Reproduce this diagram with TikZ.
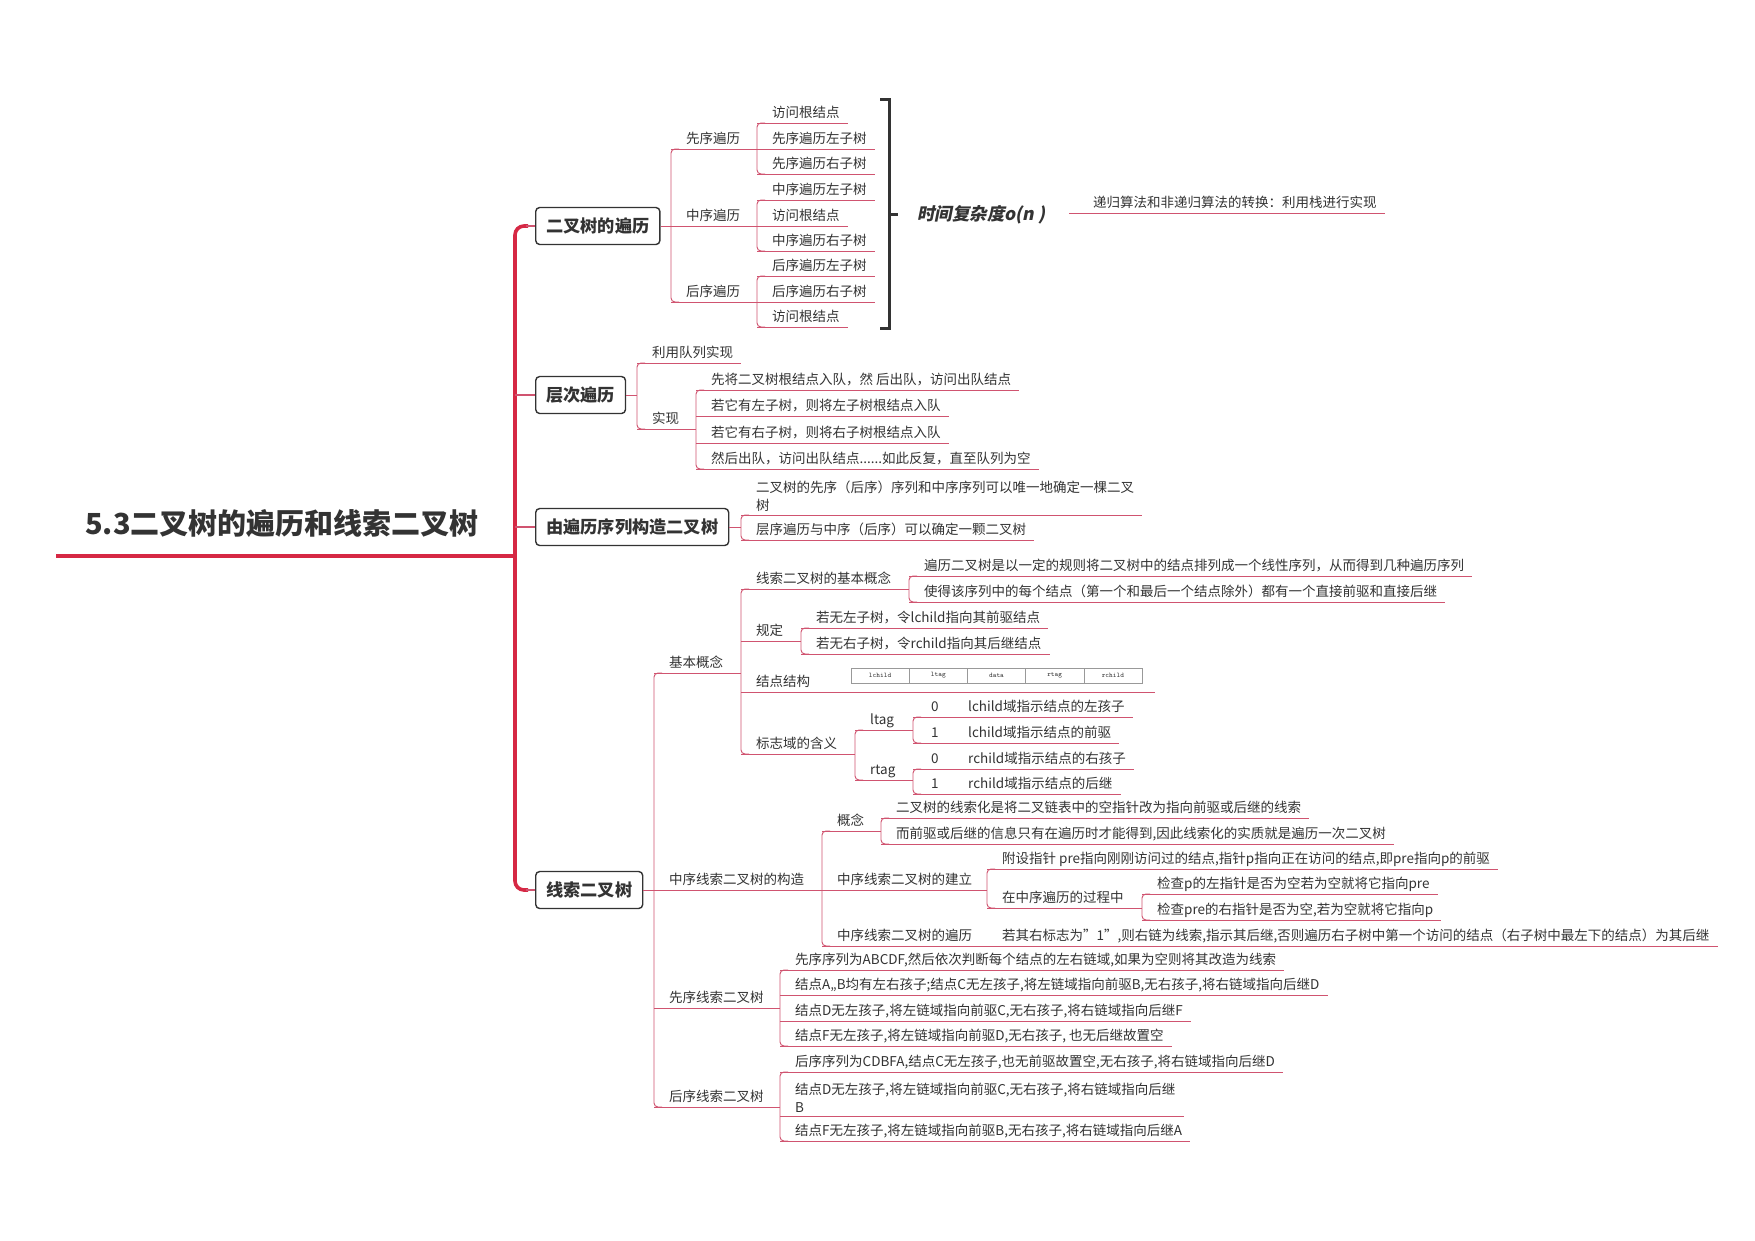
\documentclass[tikz,border=0pt]{standalone}
\usepackage{fontspec}
\setmainfont{Noto Sans CJK SC}
\newfontfamily\slfont[FakeSlant=0.2]{Noto Sans CJK SC}
\usetikzlibrary{calc}
\definecolor{brc}{RGB}{208,84,112}
\definecolor{trk}{RGB}{214,40,68}
\definecolor{txt}{RGB}{51,51,51}
\tikzset{
 br/.style={draw=brc, line width=0.95pt},
 trunk/.style={draw=trk, line width=3.6pt},
 lf/.style={anchor=base west, inner sep=0pt, text=txt, font=\fontsize{13.5}{18.5}\selectfont},
 boxn/.style={draw=txt, line width=1.4pt, rounded corners=4pt, fill=white, text=txt, font=\fontsize{17.2}{20}\selectfont\bfseries, inner xsep=10.5pt, minimum height=37pt, anchor=west},
 cell/.style={draw=gray!80, line width=0.6pt, minimum width=58.2pt, minimum height=15pt, inner sep=0pt, font=\ttfamily\fontsize{7}{8}\selectfont, text=txt},
}
\newcommand\mmleaf[4]{%
 \node[lf] (#1) at (#2+15,#3-6) {#4};
 \draw[br] (#2,#3) coordinate (#1s) -- ($(#1s -| #1.east)+(8,0)$);}
\newcommand\mmleafml[4]{%
 \node[lf, align=left, anchor=south west] (#1) at (#2+15,#3-3) {#4};
 \draw[br] (#2,#3) coordinate (#1s) -- ($(#1s -| #1.east)+(8,0)$);}
\newcommand\mmpar[5]{%
 \node[lf] (#1) at (#2+15,#3-6) {#5};
 \draw[br] (#2,#3) coordinate (#1s) -- (#4,#3) coordinate (#1e);}
\newcommand\mmspine[3]{\draw[br, rounded corners=4pt] (#1+8,#2) -- (#1,#2) -- (#1,#3) -- (#1+8,#3);}
\newcommand\mmflag[4]{%
 \node[lf] (#1d) at (931,#2-6) {#3};
 \node[lf] (#1) at (968,#2-6) {#4};
 \draw[br] (913,#2) coordinate (#1s) -- ($(#1s -| #1.east)+(8,0)$);}
\begin{document}
\begin{tikzpicture}[x=1pt,y=-1pt]
\fill[white] (0,0) rectangle (1755,1240);
\useasboundingbox (0,0) rectangle (1755,1240);

% title and trunk
\node[anchor=base west, inner sep=0pt, text=txt, font=\fontsize{29}{34}\selectfont\bfseries] (title) at (85,534) {5.3二叉树的遍历和线索二叉树};
\draw[trunk, line width=4pt] (56,556) -- (515,556);
\draw[trunk, rounded corners=9pt] (528,226) -- (515,226) -- (515,890) -- (528,890);

\node[boxn] (b1) at (535,226) {二叉树的遍历};
\node[boxn] (b2) at (535,395) {层次遍历};
\node[boxn] (b3) at (535,527) {由遍历序列构造二叉树};
\node[boxn] (b4) at (535,890) {线索二叉树};
\draw[br, line width=1.4pt] (526,226) -- (b1.west);
\draw[br, line width=1.4pt] (515,395) -- (b2.west);
\draw[br, line width=1.4pt] (515,527) -- (b3.west);
\draw[br, line width=1.4pt] (526,890) -- (b4.west);

% section 1
\draw[br] (b1.east) -- (671,226);
\mmspine{671}{149}{302}
\mmpar{p1}{671}{149}{757}{先序遍历}
\mmpar{p2}{671}{226}{757}{中序遍历}
\mmpar{p3}{671}{302}{757}{后序遍历}
\mmspine{757}{123}{174}
\mmleaf{l1}{757}{123}{访问根结点}
\mmleaf{l2}{757}{149}{先序遍历左子树}
\mmleaf{l3}{757}{174}{先序遍历右子树}
\mmspine{757}{200}{251}
\mmleaf{l4}{757}{200}{中序遍历左子树}
\mmleaf{l5}{757}{226}{访问根结点}
\mmleaf{l6}{757}{251}{中序遍历右子树}
\mmspine{757}{276}{327}
\mmleaf{l7}{757}{276}{后序遍历左子树}
\mmleaf{l8}{757}{302}{后序遍历右子树}
\mmleaf{l9}{757}{327}{访问根结点}

\draw[draw=txt, line width=3pt] (880,99) -- (889,99) -- (889,328) -- (880,328);
\draw[draw=txt, line width=3pt] (889,214) -- (898,214);
\node[anchor=west, inner sep=0pt, text=txt, font=\slfont\fontsize{17.5}{20}\selectfont\bfseries] (tc) at (917,215) {时间复杂度o(n )};
\node[lf] (rec) at (1093,207) {递归算法和非递归算法的转换：利用栈进行实现};
\draw[br] (1069,213) coordinate (recs) -- ($(recs -| rec.east)+(8,0)$);

% section 2
\draw[br] (b2.east) -- (637,395);
\mmspine{637}{363}{429}
\mmleaf{q1}{637}{363}{利用队列实现}
\mmpar{q2}{637}{429}{696}{实现}
\mmspine{696}{390}{469}
\mmleaf{q3}{696}{390}{先将二叉树根结点入队，然 后出队，访问出队结点}
\mmleaf{q4}{696}{416}{若它有左子树，则将左子树根结点入队}
\mmleaf{q5}{696}{443}{若它有右子树，则将右子树根结点入队}
\mmleaf{q6}{696}{469}{然后出队，访问出队结点......如此反复，直至队列为空}

% section 3
\draw[br] (b3.east) -- (741,527);
\mmspine{741}{515}{540}
\mmleafml{r1}{741}{515}{二叉树的先序（后序）序列和中序序列可以唯一地确定一棵二叉\\树}
\mmleaf{r2}{741}{540}{层序遍历与中序（后序）可以确定一颗二叉树}

% section 4
\draw[br] (b4.east) -- (654,890);
\mmspine{654}{673}{1107}
\mmpar{s1}{654}{673}{741}{基本概念}
\mmpar{s2}{654}{890}{822}{中序线索二叉树的构造}
\mmpar{s3}{654}{1008}{780}{先序线索二叉树}
\mmpar{s4}{654}{1107}{780}{后序线索二叉树}

\mmspine{741}{589}{754}
\mmpar{t1}{741}{589}{909}{线索二叉树的基本概念}
\mmspine{909}{576}{602}
\mmleaf{t11}{909}{576}{遍历二叉树是以一定的规则将二叉树中的结点排列成一个线性序列，从而得到几种遍历序列}
\mmleaf{t12}{909}{602}{使得该序列中的每个结点（第一个和最后一个结点除外）都有一个直接前驱和直接后继}
\mmpar{t2}{741}{641}{801}{规定}
\mmspine{801}{628}{654}
\mmleaf{t21}{801}{628}{若无左子树，令lchild指向其前驱结点}
\mmleaf{t22}{801}{654}{若无右子树，令rchild指向其后继结点}
\mmpar{t3}{741}{692}{1155}{结点结构}
\node[cell] (c1) at (880.1,675.5) {lchild};
\node[cell] (c2) at (938.3,675.5) {ltag};
\node[cell] (c3) at (996.5,675.5) {data};
\node[cell] (c4) at (1054.7,675.5) {rtag};
\node[cell] (c5) at (1112.9,675.5) {rchild};
\mmpar{t4}{741}{754}{855}{标志域的含义}
\mmspine{855}{730}{780}
\mmpar{t41}{855}{730}{913}{ltag}
\mmpar{t42}{855}{780}{913}{rtag}
\mmspine{913}{717}{743}
\mmflag{f1}{717}{0}{lchild域指示结点的左孩子}
\mmflag{f2}{743}{1}{lchild域指示结点的前驱}
\mmspine{913}{769}{794}
\mmflag{f3}{769}{0}{rchild域指示结点的右孩子}
\mmflag{f4}{794}{1}{rchild域指示结点的后继}

\mmspine{822}{831}{946}
\mmpar{u1}{822}{831}{881}{概念}
\mmspine{881}{818}{844}
\mmleaf{u11}{881}{818}{二叉树的线索化是将二叉链表中的空指针改为指向前驱或后继的线索}
\mmleaf{u12}{881}{844}{而前驱或后继的信息只有在遍历时才能得到,因此线索化的实质就是遍历一次二叉树}
\mmpar{u2}{822}{890}{987}{中序线索二叉树的建立}
\mmspine{987}{869}{908}
\mmleaf{u21}{987}{869}{附设指针 pre指向刚刚访问过的结点,指针p指向正在访问的结点,即pre指向p的前驱}
\mmpar{u22}{987}{908}{1142}{在中序遍历的过程中}
\mmspine{1142}{894}{920}
\mmleaf{u221}{1142}{894}{检查p的左指针是否为空若为空就将它指向pre}
\mmleaf{u222}{1142}{920}{检查pre的右指针是否为空,若为空就将它指向p}
\mmpar{u3}{822}{946}{987}{中序线索二叉树的遍历}
\mmleaf{u31}{987}{946}{若其右标志为\char"0022 1\char"0022,则右链为线索,指示其后继,否则遍历右子树中第一个访问的结点（右子树中最左下的结点）为其后继}

\mmspine{780}{970}{1046}
\mmleaf{v1}{780}{970}{先序序列为ABCDF,然后依次判断每个结点的左右链域,如果为空则将其改造为线索}
\mmleaf{v2}{780}{995}{结点A,,B均有左右孩子;结点C无左孩子,将左链域指向前驱B,无右孩子,将右链域指向后继D}
\mmleaf{v3}{780}{1021}{结点D无左孩子,将左链域指向前驱C,无右孩子,将右链域指向后继F}
\mmleaf{v4}{780}{1046}{结点F无左孩子,将左链域指向前驱D,无右孩子, 也无后继故置空}
\mmspine{780}{1072}{1141}
\mmleaf{w1}{780}{1072}{后序序列为CDBFA,结点C无左孩子,也无前驱故置空,无右孩子,将右链域指向后继D}
\mmleafml{w2}{780}{1116}{结点D无左孩子,将左链域指向前驱C,无右孩子,将右链域指向后继\\B}
\mmleaf{w3}{780}{1141}{结点F无左孩子,将左链域指向前驱B,无右孩子,将右链域指向后继A}
\end{tikzpicture}
\end{document}
